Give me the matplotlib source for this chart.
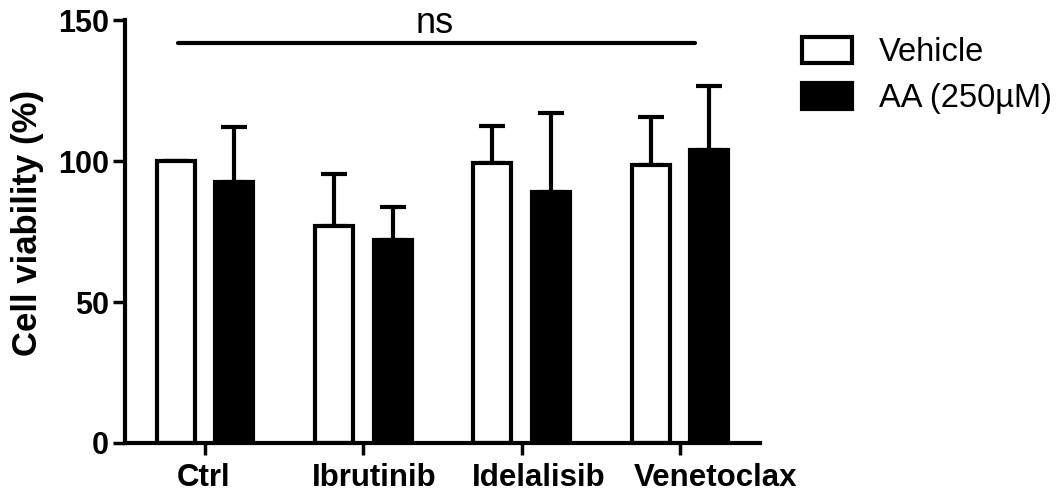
import numpy as np
import matplotlib
matplotlib.use('Agg')
import matplotlib.pyplot as plt
from matplotlib.transforms import ScaledTranslation

groups = ['Ctrl', 'Ibrutinib', 'Idelalisib', 'Venetoclax']
vehicle_mean = [100, 77, 99.3, 98.6]
vehicle_sd = [0, 18.4, 13.1, 17]
aa_mean = [92.5, 72, 89, 104]
aa_sd = [19.5, 11.6, 28, 22.6]
series_labels = ['Vehicle', 'AA (250\u00b5M)']
ns_y = 142

plt.rcParams['font.family'] = ['Liberation Sans', 'DejaVu Sans']

fig = plt.figure(figsize=(10.64, 4.92), dpi=100)
ax = fig.add_axes([0.1175, 0.0996, 0.5967, 0.8597])

x = np.arange(len(groups))
w = 0.24
off = 0.186
lw = 3

b1 = ax.bar(x - off, vehicle_mean, w, color='white', edgecolor='black', linewidth=lw, zorder=2)
b2 = ax.bar(x + off, aa_mean, w, color='black', edgecolor='black', linewidth=lw, zorder=2)
ax.errorbar(x - off, vehicle_mean, yerr=[np.zeros(4), vehicle_sd], fmt='none', ecolor='black',
            elinewidth=lw, capsize=9.5, capthick=lw, zorder=1)
ax.errorbar(x + off, aa_mean, yerr=[np.zeros(4), aa_sd], fmt='none', ecolor='black',
            elinewidth=lw, capsize=9.5, capthick=lw, zorder=1)

# significance line
ax.plot([-0.17, 3.095], [ns_y, ns_y], color='black', lw=lw, clip_on=False, solid_capstyle='round')
ax.text(1.45, ns_y + 3.3, 'ns', ha='center', va='baseline', fontsize=26)

ax.set_xlim(-0.505, 3.505)
ax.set_ylim(0, 150)
ax.set_yticks([0, 50, 100, 150])
ax.set_xticks(x)
ax.set_xticklabels(groups, fontsize=22.5, fontweight='bold')
for t in ax.get_yticklabels():
    t.set_fontsize(22)
    t.set_fontweight('bold')
ax.tick_params(axis='both', direction='out', length=8.5, width=2.5, pad=3)
ax.tick_params(axis='x', pad=6)

# labels in the original sit a bit right of their ticks
shifts = [-1.5, 11, 17, 36]
for t, dx in zip(ax.get_xticklabels(), shifts):
    t.set_transform(t.get_transform() + ScaledTranslation(dx / 100, 0, fig.dpi_scale_trans))

for s in ['top', 'right']:
    ax.spines[s].set_visible(False)
for s in ['left', 'bottom']:
    ax.spines[s].set_linewidth(3)

ax.set_ylabel('Cell viability (%)', fontsize=25, fontweight='bold')
ax.yaxis.set_label_coords(-0.128, 0.52)

ax.legend([b1, b2], series_labels, loc='upper left', bbox_to_anchor=(0.754, 0.925),
          bbox_transform=fig.transFigure, frameon=False, fontsize=23.5,
          handlelength=1.52, handleheight=0.85, handletextpad=0.82,
          labelspacing=0.45, borderpad=0, borderaxespad=0)

fig.savefig('out.png', dpi=100)
